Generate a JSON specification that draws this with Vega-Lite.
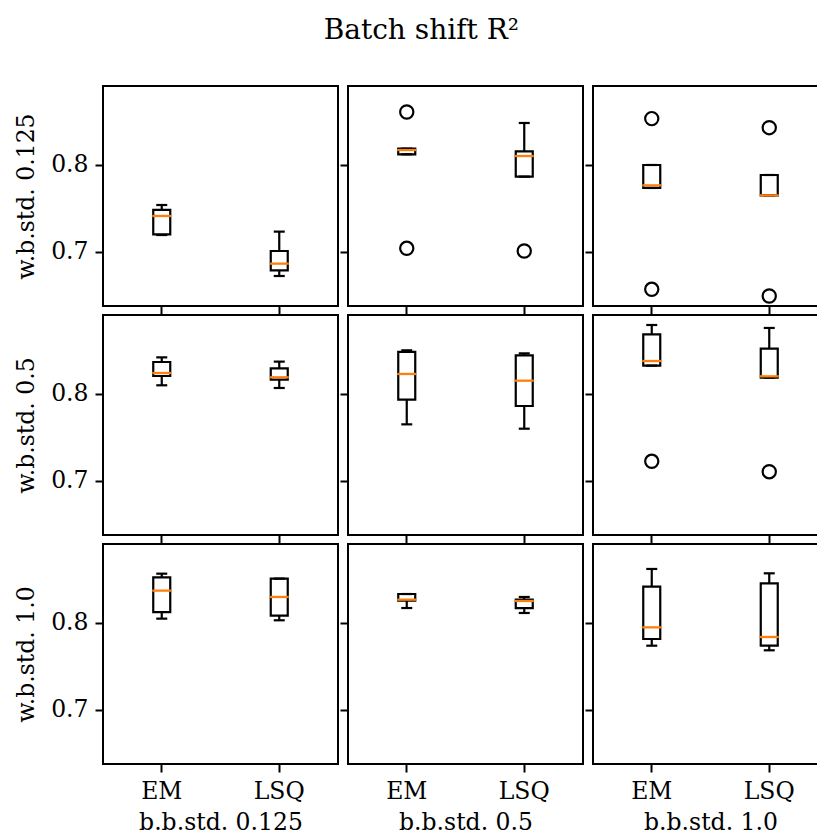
{
  "$schema": "https://vega.github.io/schema/vega-lite/v6.json",
  "padding": {"left": 13, "top": 17, "right": 0, "bottom": 0},
  "title": {"text": "Batch shift R²", "font": "DejaVu Serif", "fontSize": 28, "fontWeight": "normal", "color": "black", "frame": "bounds", "anchor": "middle", "offset": 40},
  "datasets": {
    "boxes": [
      {"wb": "0.125", "bb": "0.125", "method": "EM", "wlo": 0.7195, "q1": 0.7203, "med": 0.7414, "q3": 0.7483, "whi": 0.754},
      {"wb": "0.125", "bb": "0.125", "method": "LSQ", "wlo": 0.6724, "q1": 0.6789, "med": 0.6866, "q3": 0.7011, "whi": 0.7234},
      {"wb": "0.125", "bb": "0.5", "method": "EM", "wlo": 0.8123, "q1": 0.8123, "med": 0.8172, "q3": 0.8188, "whi": 0.8188},
      {"wb": "0.125", "bb": "0.5", "method": "LSQ", "wlo": 0.7866, "q1": 0.7866, "med": 0.8103, "q3": 0.8157, "whi": 0.8483},
      {"wb": "0.125", "bb": "1.0", "method": "EM", "wlo": 0.7736, "q1": 0.7736, "med": 0.7766, "q3": 0.8, "whi": 0.8},
      {"wb": "0.125", "bb": "1.0", "method": "LSQ", "wlo": 0.7651, "q1": 0.7651, "med": 0.7651, "q3": 0.7885, "whi": 0.7885},
      {"wb": "0.5", "bb": "0.125", "method": "EM", "wlo": 0.81, "q1": 0.8207, "med": 0.8241, "q3": 0.8368, "whi": 0.8421},
      {"wb": "0.5", "bb": "0.125", "method": "LSQ", "wlo": 0.8069, "q1": 0.8165, "med": 0.8192, "q3": 0.8295, "whi": 0.8372},
      {"wb": "0.5", "bb": "0.5", "method": "EM", "wlo": 0.7651, "q1": 0.7935, "med": 0.823, "q3": 0.8483, "whi": 0.8502},
      {"wb": "0.5", "bb": "0.5", "method": "LSQ", "wlo": 0.7601, "q1": 0.7862, "med": 0.8153, "q3": 0.8444, "whi": 0.8467},
      {"wb": "0.5", "bb": "1.0", "method": "EM", "wlo": 0.8326, "q1": 0.8326, "med": 0.8379, "q3": 0.8686, "whi": 0.8793},
      {"wb": "0.5", "bb": "1.0", "method": "LSQ", "wlo": 0.8188, "q1": 0.8188, "med": 0.8203, "q3": 0.8521, "whi": 0.8759},
      {"wb": "1.0", "bb": "0.125", "method": "EM", "wlo": 0.805, "q1": 0.8126, "med": 0.8372, "q3": 0.8525, "whi": 0.8567},
      {"wb": "1.0", "bb": "0.125", "method": "LSQ", "wlo": 0.8031, "q1": 0.8084, "med": 0.8299, "q3": 0.851, "whi": 0.851},
      {"wb": "1.0", "bb": "0.5", "method": "EM", "wlo": 0.8172, "q1": 0.8257, "med": 0.8268, "q3": 0.8333, "whi": 0.8333},
      {"wb": "1.0", "bb": "0.5", "method": "LSQ", "wlo": 0.8115, "q1": 0.8172, "med": 0.8253, "q3": 0.8268, "whi": 0.8299},
      {"wb": "1.0", "bb": "1.0", "method": "EM", "wlo": 0.7739, "q1": 0.7816, "med": 0.795, "q3": 0.8418, "whi": 0.8621},
      {"wb": "1.0", "bb": "1.0", "method": "LSQ", "wlo": 0.7686, "q1": 0.7739, "med": 0.7839, "q3": 0.8456, "whi": 0.8571}
    ],
    "outliers": [
      {"wb": "0.125", "bb": "0.5", "method": "EM", "value": 0.8609},
      {"wb": "0.125", "bb": "0.5", "method": "EM", "value": 0.7042},
      {"wb": "0.125", "bb": "0.5", "method": "LSQ", "value": 0.7011},
      {"wb": "0.125", "bb": "1.0", "method": "EM", "value": 0.8533},
      {"wb": "0.125", "bb": "1.0", "method": "EM", "value": 0.6571},
      {"wb": "0.125", "bb": "1.0", "method": "LSQ", "value": 0.8429},
      {"wb": "0.125", "bb": "1.0", "method": "LSQ", "value": 0.6494},
      {"wb": "0.5", "bb": "1.0", "method": "EM", "value": 0.7226},
      {"wb": "0.5", "bb": "1.0", "method": "LSQ", "value": 0.7107}
    ]
  },
  "config": {
    "font": "DejaVu Serif",
    "view": {"stroke": "black", "strokeWidth": 2},
    "scale": {"pointPadding": 0.5},
    "axis": {"domain": false, "grid": false, "tickColor": "black", "tickWidth": 2, "tickSize": 8, "labelFont": "DejaVu Serif", "labelFontSize": 23.5, "labelColor": "black", "labelPadding": 7, "titleFont": "DejaVu Serif", "titleFontSize": 23.5, "titleFontWeight": "normal", "titleColor": "black"},
    "axisX": {"labelAngle": 0, "titlePadding": 8},
    "axisY": {"titlePadding": 12}
  },
  "bounds": "flush",
  "columns": 3,
  "spacing": {"row": 9, "column": 10},
  "concat": [
    {
      "width": 235, "height": 220,
      "layer": [
        {
          "data": {"name": "boxes"},
          "transform": [{"filter": "datum.wb === '0.125' && datum.bb === '0.125'"}],
          "encoding": {"x": {"field": "method", "type": "nominal", "axis": {"labels": false, "title": null}}},
          "layer": [
            {"mark": {"type": "rule", "color": "black", "strokeWidth": 2.2}, "encoding": {"y": {"field": "wlo", "type": "quantitative", "scale": {"domain": [0.6379, 0.8908], "nice": false, "zero": false}, "axis": {"values": [0.7, 0.8], "format": ".1f", "title": "w.b.std. 0.125"}}, "y2": {"field": "whi"}}},
            {"mark": {"type": "bar", "size": 17, "fill": "white", "stroke": "black", "strokeWidth": 2.2}, "encoding": {"y": {"field": "q1", "type": "quantitative"}, "y2": {"field": "q3"}}},
            {"mark": {"type": "tick", "size": 11, "thickness": 2.2, "color": "black", "opacity": 1}, "encoding": {"y": {"field": "wlo", "type": "quantitative"}}},
            {"mark": {"type": "tick", "size": 11, "thickness": 2.2, "color": "black", "opacity": 1}, "encoding": {"y": {"field": "whi", "type": "quantitative"}}},
            {"mark": {"type": "tick", "size": 19, "thickness": 2.3, "color": "#ff7f0e", "opacity": 1}, "encoding": {"y": {"field": "med", "type": "quantitative"}}}
          ]
        }
      ]
    },
    {
      "width": 235, "height": 220,
      "layer": [
        {
          "data": {"name": "boxes"},
          "transform": [{"filter": "datum.wb === '0.125' && datum.bb === '0.5'"}],
          "encoding": {"x": {"field": "method", "type": "nominal", "axis": {"labels": false, "title": null}}},
          "layer": [
            {"mark": {"type": "rule", "color": "black", "strokeWidth": 2.2}, "encoding": {"y": {"field": "wlo", "type": "quantitative", "scale": {"domain": [0.6379, 0.8908], "nice": false, "zero": false}, "axis": {"values": [0.7, 0.8], "labels": false, "title": null}}, "y2": {"field": "whi"}}},
            {"mark": {"type": "bar", "size": 17, "fill": "white", "stroke": "black", "strokeWidth": 2.2}, "encoding": {"y": {"field": "q1", "type": "quantitative"}, "y2": {"field": "q3"}}},
            {"mark": {"type": "tick", "size": 11, "thickness": 2.2, "color": "black", "opacity": 1}, "encoding": {"y": {"field": "wlo", "type": "quantitative"}}},
            {"mark": {"type": "tick", "size": 11, "thickness": 2.2, "color": "black", "opacity": 1}, "encoding": {"y": {"field": "whi", "type": "quantitative"}}},
            {"mark": {"type": "tick", "size": 19, "thickness": 2.3, "color": "#ff7f0e", "opacity": 1}, "encoding": {"y": {"field": "med", "type": "quantitative"}}}
          ]
        },
        {
          "data": {"name": "outliers"},
          "transform": [{"filter": "datum.wb === '0.125' && datum.bb === '0.5'"}],
          "mark": {"type": "point", "shape": "circle", "filled": false, "size": 175, "stroke": "black", "strokeWidth": 2.2, "opacity": 1},
          "encoding": {"x": {"field": "method", "type": "nominal"}, "y": {"field": "value", "type": "quantitative"}}
        }
      ]
    },
    {
      "width": 235, "height": 220,
      "layer": [
        {
          "data": {"name": "boxes"},
          "transform": [{"filter": "datum.wb === '0.125' && datum.bb === '1.0'"}],
          "encoding": {"x": {"field": "method", "type": "nominal", "axis": {"labels": false, "title": null}}},
          "layer": [
            {"mark": {"type": "rule", "color": "black", "strokeWidth": 2.2}, "encoding": {"y": {"field": "wlo", "type": "quantitative", "scale": {"domain": [0.6379, 0.8908], "nice": false, "zero": false}, "axis": {"values": [0.7, 0.8], "labels": false, "title": null}}, "y2": {"field": "whi"}}},
            {"mark": {"type": "bar", "size": 17, "fill": "white", "stroke": "black", "strokeWidth": 2.2}, "encoding": {"y": {"field": "q1", "type": "quantitative"}, "y2": {"field": "q3"}}},
            {"mark": {"type": "tick", "size": 11, "thickness": 2.2, "color": "black", "opacity": 1}, "encoding": {"y": {"field": "wlo", "type": "quantitative"}}},
            {"mark": {"type": "tick", "size": 11, "thickness": 2.2, "color": "black", "opacity": 1}, "encoding": {"y": {"field": "whi", "type": "quantitative"}}},
            {"mark": {"type": "tick", "size": 19, "thickness": 2.3, "color": "#ff7f0e", "opacity": 1}, "encoding": {"y": {"field": "med", "type": "quantitative"}}}
          ]
        },
        {
          "data": {"name": "outliers"},
          "transform": [{"filter": "datum.wb === '0.125' && datum.bb === '1.0'"}],
          "mark": {"type": "point", "shape": "circle", "filled": false, "size": 175, "stroke": "black", "strokeWidth": 2.2, "opacity": 1},
          "encoding": {"x": {"field": "method", "type": "nominal"}, "y": {"field": "value", "type": "quantitative"}}
        }
      ]
    },
    {
      "width": 235, "height": 220,
      "layer": [
        {
          "data": {"name": "boxes"},
          "transform": [{"filter": "datum.wb === '0.5' && datum.bb === '0.125'"}],
          "encoding": {"x": {"field": "method", "type": "nominal", "axis": {"labels": false, "title": null}}},
          "layer": [
            {"mark": {"type": "rule", "color": "black", "strokeWidth": 2.2}, "encoding": {"y": {"field": "wlo", "type": "quantitative", "scale": {"domain": [0.6379, 0.8908], "nice": false, "zero": false}, "axis": {"values": [0.7, 0.8], "format": ".1f", "title": "w.b.std. 0.5"}}, "y2": {"field": "whi"}}},
            {"mark": {"type": "bar", "size": 17, "fill": "white", "stroke": "black", "strokeWidth": 2.2}, "encoding": {"y": {"field": "q1", "type": "quantitative"}, "y2": {"field": "q3"}}},
            {"mark": {"type": "tick", "size": 11, "thickness": 2.2, "color": "black", "opacity": 1}, "encoding": {"y": {"field": "wlo", "type": "quantitative"}}},
            {"mark": {"type": "tick", "size": 11, "thickness": 2.2, "color": "black", "opacity": 1}, "encoding": {"y": {"field": "whi", "type": "quantitative"}}},
            {"mark": {"type": "tick", "size": 19, "thickness": 2.3, "color": "#ff7f0e", "opacity": 1}, "encoding": {"y": {"field": "med", "type": "quantitative"}}}
          ]
        }
      ]
    },
    {
      "width": 235, "height": 220,
      "layer": [
        {
          "data": {"name": "boxes"},
          "transform": [{"filter": "datum.wb === '0.5' && datum.bb === '0.5'"}],
          "encoding": {"x": {"field": "method", "type": "nominal", "axis": {"labels": false, "title": null}}},
          "layer": [
            {"mark": {"type": "rule", "color": "black", "strokeWidth": 2.2}, "encoding": {"y": {"field": "wlo", "type": "quantitative", "scale": {"domain": [0.6379, 0.8908], "nice": false, "zero": false}, "axis": {"values": [0.7, 0.8], "labels": false, "title": null}}, "y2": {"field": "whi"}}},
            {"mark": {"type": "bar", "size": 17, "fill": "white", "stroke": "black", "strokeWidth": 2.2}, "encoding": {"y": {"field": "q1", "type": "quantitative"}, "y2": {"field": "q3"}}},
            {"mark": {"type": "tick", "size": 11, "thickness": 2.2, "color": "black", "opacity": 1}, "encoding": {"y": {"field": "wlo", "type": "quantitative"}}},
            {"mark": {"type": "tick", "size": 11, "thickness": 2.2, "color": "black", "opacity": 1}, "encoding": {"y": {"field": "whi", "type": "quantitative"}}},
            {"mark": {"type": "tick", "size": 19, "thickness": 2.3, "color": "#ff7f0e", "opacity": 1}, "encoding": {"y": {"field": "med", "type": "quantitative"}}}
          ]
        }
      ]
    },
    {
      "width": 235, "height": 220,
      "layer": [
        {
          "data": {"name": "boxes"},
          "transform": [{"filter": "datum.wb === '0.5' && datum.bb === '1.0'"}],
          "encoding": {"x": {"field": "method", "type": "nominal", "axis": {"labels": false, "title": null}}},
          "layer": [
            {"mark": {"type": "rule", "color": "black", "strokeWidth": 2.2}, "encoding": {"y": {"field": "wlo", "type": "quantitative", "scale": {"domain": [0.6379, 0.8908], "nice": false, "zero": false}, "axis": {"values": [0.7, 0.8], "labels": false, "title": null}}, "y2": {"field": "whi"}}},
            {"mark": {"type": "bar", "size": 17, "fill": "white", "stroke": "black", "strokeWidth": 2.2}, "encoding": {"y": {"field": "q1", "type": "quantitative"}, "y2": {"field": "q3"}}},
            {"mark": {"type": "tick", "size": 11, "thickness": 2.2, "color": "black", "opacity": 1}, "encoding": {"y": {"field": "wlo", "type": "quantitative"}}},
            {"mark": {"type": "tick", "size": 11, "thickness": 2.2, "color": "black", "opacity": 1}, "encoding": {"y": {"field": "whi", "type": "quantitative"}}},
            {"mark": {"type": "tick", "size": 19, "thickness": 2.3, "color": "#ff7f0e", "opacity": 1}, "encoding": {"y": {"field": "med", "type": "quantitative"}}}
          ]
        },
        {
          "data": {"name": "outliers"},
          "transform": [{"filter": "datum.wb === '0.5' && datum.bb === '1.0'"}],
          "mark": {"type": "point", "shape": "circle", "filled": false, "size": 175, "stroke": "black", "strokeWidth": 2.2, "opacity": 1},
          "encoding": {"x": {"field": "method", "type": "nominal"}, "y": {"field": "value", "type": "quantitative"}}
        }
      ]
    },
    {
      "width": 235, "height": 220,
      "layer": [
        {
          "data": {"name": "boxes"},
          "transform": [{"filter": "datum.wb === '1.0' && datum.bb === '0.125'"}],
          "encoding": {"x": {"field": "method", "type": "nominal", "axis": {"title": "b.b.std. 0.125"}}},
          "layer": [
            {"mark": {"type": "rule", "color": "black", "strokeWidth": 2.2}, "encoding": {"y": {"field": "wlo", "type": "quantitative", "scale": {"domain": [0.6379, 0.8908], "nice": false, "zero": false}, "axis": {"values": [0.7, 0.8], "format": ".1f", "title": "w.b.std. 1.0"}}, "y2": {"field": "whi"}}},
            {"mark": {"type": "bar", "size": 17, "fill": "white", "stroke": "black", "strokeWidth": 2.2}, "encoding": {"y": {"field": "q1", "type": "quantitative"}, "y2": {"field": "q3"}}},
            {"mark": {"type": "tick", "size": 11, "thickness": 2.2, "color": "black", "opacity": 1}, "encoding": {"y": {"field": "wlo", "type": "quantitative"}}},
            {"mark": {"type": "tick", "size": 11, "thickness": 2.2, "color": "black", "opacity": 1}, "encoding": {"y": {"field": "whi", "type": "quantitative"}}},
            {"mark": {"type": "tick", "size": 19, "thickness": 2.3, "color": "#ff7f0e", "opacity": 1}, "encoding": {"y": {"field": "med", "type": "quantitative"}}}
          ]
        }
      ]
    },
    {
      "width": 235, "height": 220,
      "layer": [
        {
          "data": {"name": "boxes"},
          "transform": [{"filter": "datum.wb === '1.0' && datum.bb === '0.5'"}],
          "encoding": {"x": {"field": "method", "type": "nominal", "axis": {"title": "b.b.std. 0.5"}}},
          "layer": [
            {"mark": {"type": "rule", "color": "black", "strokeWidth": 2.2}, "encoding": {"y": {"field": "wlo", "type": "quantitative", "scale": {"domain": [0.6379, 0.8908], "nice": false, "zero": false}, "axis": {"values": [0.7, 0.8], "labels": false, "title": null}}, "y2": {"field": "whi"}}},
            {"mark": {"type": "bar", "size": 17, "fill": "white", "stroke": "black", "strokeWidth": 2.2}, "encoding": {"y": {"field": "q1", "type": "quantitative"}, "y2": {"field": "q3"}}},
            {"mark": {"type": "tick", "size": 11, "thickness": 2.2, "color": "black", "opacity": 1}, "encoding": {"y": {"field": "wlo", "type": "quantitative"}}},
            {"mark": {"type": "tick", "size": 11, "thickness": 2.2, "color": "black", "opacity": 1}, "encoding": {"y": {"field": "whi", "type": "quantitative"}}},
            {"mark": {"type": "tick", "size": 19, "thickness": 2.3, "color": "#ff7f0e", "opacity": 1}, "encoding": {"y": {"field": "med", "type": "quantitative"}}}
          ]
        }
      ]
    },
    {
      "width": 235, "height": 220,
      "layer": [
        {
          "data": {"name": "boxes"},
          "transform": [{"filter": "datum.wb === '1.0' && datum.bb === '1.0'"}],
          "encoding": {"x": {"field": "method", "type": "nominal", "axis": {"title": "b.b.std. 1.0"}}},
          "layer": [
            {"mark": {"type": "rule", "color": "black", "strokeWidth": 2.2}, "encoding": {"y": {"field": "wlo", "type": "quantitative", "scale": {"domain": [0.6379, 0.8908], "nice": false, "zero": false}, "axis": {"values": [0.7, 0.8], "labels": false, "title": null}}, "y2": {"field": "whi"}}},
            {"mark": {"type": "bar", "size": 17, "fill": "white", "stroke": "black", "strokeWidth": 2.2}, "encoding": {"y": {"field": "q1", "type": "quantitative"}, "y2": {"field": "q3"}}},
            {"mark": {"type": "tick", "size": 11, "thickness": 2.2, "color": "black", "opacity": 1}, "encoding": {"y": {"field": "wlo", "type": "quantitative"}}},
            {"mark": {"type": "tick", "size": 11, "thickness": 2.2, "color": "black", "opacity": 1}, "encoding": {"y": {"field": "whi", "type": "quantitative"}}},
            {"mark": {"type": "tick", "size": 19, "thickness": 2.3, "color": "#ff7f0e", "opacity": 1}, "encoding": {"y": {"field": "med", "type": "quantitative"}}}
          ]
        }
      ]
    }
  ]
}
